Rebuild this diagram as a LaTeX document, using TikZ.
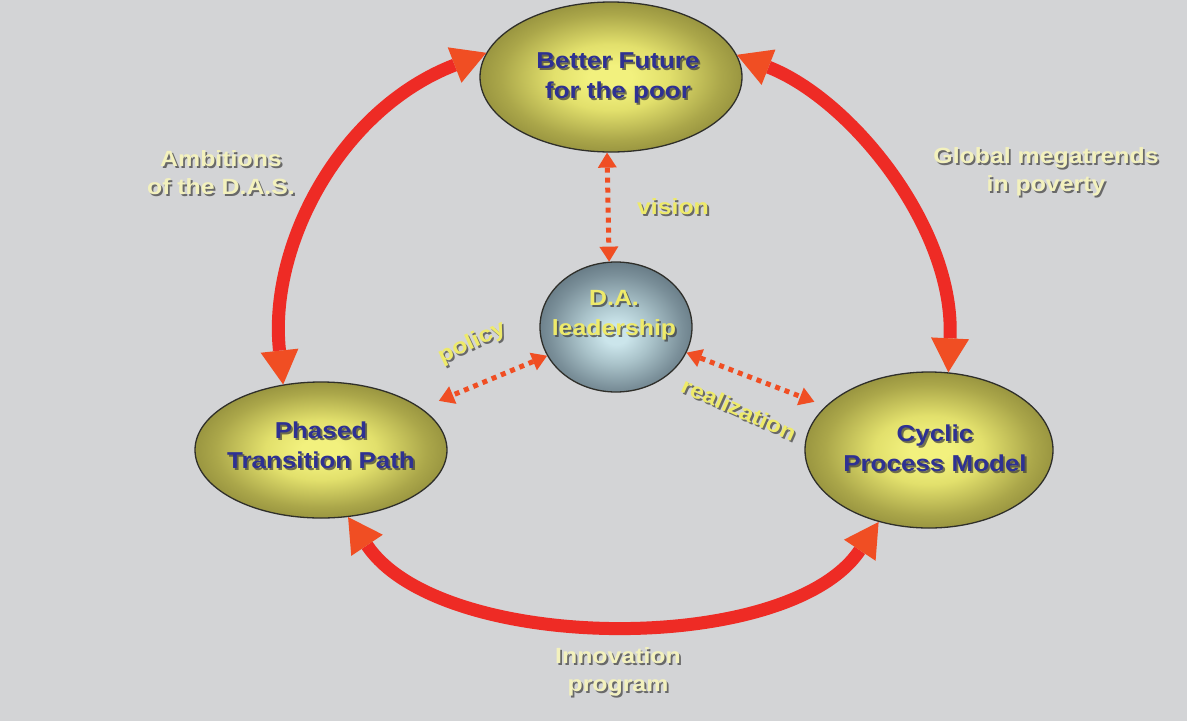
\documentclass[tikz,border=0pt]{standalone}
\usepackage{fontspec}
\usetikzlibrary{arrows.meta,shapes.geometric,calc}
\newfontfamily\diafont{Liberation Sans}[FakeStretch=1.13]

\definecolor{bg}{HTML}{D3D4D6}
\definecolor{arcred}{HTML}{EE2B25}
\definecolor{tipred}{HTML}{F04E23}
\definecolor{outline}{HTML}{2F2F2A}
\definecolor{bulbin}{HTML}{F2F17E}
\definecolor{bulbhi}{HTML}{E2E06C}
\definecolor{bulbmid}{HTML}{ABA74A}
\definecolor{bulblow}{HTML}{898537}
\definecolor{bulbout}{HTML}{6C682B}
\definecolor{hubin}{HTML}{CBE5EB}
\definecolor{hubhi}{HTML}{A9C2C9}
\definecolor{hubmid}{HTML}{7A8F99}
\definecolor{hublow}{HTML}{5F727D}
\definecolor{hubout}{HTML}{47565F}
\definecolor{navy}{HTML}{2E3192}
\definecolor{cream}{HTML}{F3F1BD}
\definecolor{hubyellow}{HTML}{EEEA6A}
\definecolor{shadowgray}{HTML}{3C3C3C}

% the shape's rim sits at about 35bp of the shading's radius
\pgfdeclareradialshading{olivebulb}{\pgfpoint{0bp}{0bp}}{%
  color(0bp)=(bulbin); color(4bp)=(bulbin); color(11bp)=(bulbhi);
  color(21bp)=(bulbmid); color(29bp)=(bulblow); color(35bp)=(bulbout); color(50bp)=(bulbout)}
\pgfdeclareradialshading{hubglobe}{\pgfpoint{0bp}{-3bp}}{%
  color(0bp)=(hubin); color(4bp)=(hubin); color(12bp)=(hubhi);
  color(22bp)=(hubmid); color(29bp)=(hublow); color(35bp)=(hubout); color(50bp)=(hubout)}

% text with a soft drop shadow: name, position, rotation, style, text
\newcommand\castlabel[5]{%
  \node[#4, shadowed, rotate=#3] (#1-shade) at ($(#2)+(1.8,2)$) {#5};
  \node[#4, rotate=#3] (#1) at (#2) {#5};}

\begin{document}
\begin{tikzpicture}[x=1pt,y=-1pt,
  bulb/.style={ellipse, draw=outline, line width=1.3pt, inner sep=0pt},
  bigtip/.tip={Triangle[width=38pt,length=34pt,line width=0pt,color=tipred]},
  smalltip/.tip={Triangle[width=19pt,length=15pt,line width=0pt,color=tipred]},
  bigarc/.style={line width=13pt, draw=arcred, bigtip-bigtip},
  dotarc/.style={line width=5pt, draw=tipred, dash pattern=on 5pt off 5pt, smalltip-smalltip},
  nodetext/.style={font=\diafont\bfseries\fontsize{23}{30}\selectfont, text=navy, align=center},
  labeltext/.style={font=\diafont\bfseries\fontsize{22}{28}\selectfont, text=cream, align=center},
  hubtext/.style={font=\diafont\bfseries\fontsize{22}{30}\selectfont, text=hubyellow, align=center},
  shadowed/.style={text=shadowgray, text opacity=0.7}
]
\fill[bg] (0,0) rectangle (1187,721);
\useasboundingbox (0,0) rectangle (1187,721);

% four bubbles
\node[bulb, shading=olivebulb, minimum width=262pt, minimum height=150pt] (top) at (611,77) {};
\node[bulb, shading=olivebulb, minimum width=252pt, minimum height=136pt] (left) at (321,450) {};
\node[bulb, shading=olivebulb, minimum width=248pt, minimum height=156pt] (right) at (929,450) {};
\node[bulb, shading=hubglobe, minimum width=152pt, minimum height=130pt] (hub) at (616,327) {};

% outer cycle
\draw[bigarc] (left.120) .. controls +(-15,-138) and +(-147,57) .. (top.169);
\draw[bigarc] (right.76) .. controls +(7,-143) and +(115,45) .. (top.10);
\draw[bigarc] (left.292) .. controls +(92,137) and +(-90,135) .. (right.235);

% links to the hub
\draw[dotarc] (top.-93) -- (hub.96);
\draw[dotarc, shorten >=19pt] (hub) -- (left);
\draw[dotarc, shorten >=12pt] (hub.-20) -- (right.157);

% texts
\castlabel{topT}{618,78}{0}{nodetext}{Better Future\\for the poor}
\castlabel{leftT}{321,445}{0}{nodetext}{Phased\\Transition Path}
\castlabel{rightT}{935,448}{0}{nodetext}{Cyclic\\Process Model}
\castlabel{hubT}{614,315}{0}{hubtext}{D.A.\\leadership}
\castlabel{ambT}{221,173}{0}{labeltext}{Ambitions\\of the D.A.S.}
\castlabel{megaT}{1046,172}{0}{labeltext}{Global megatrends\\in poverty}
\castlabel{innoT}{618,672}{0}{labeltext}{Innovation\\program}
\castlabel{visT}{673,207}{0}{hubtext}{vision}
\castlabel{polT}{472,343}{25}{hubtext}{policy}
\castlabel{realT}{739,409}{-24}{hubtext}{realization}
\end{tikzpicture}
\end{document}
